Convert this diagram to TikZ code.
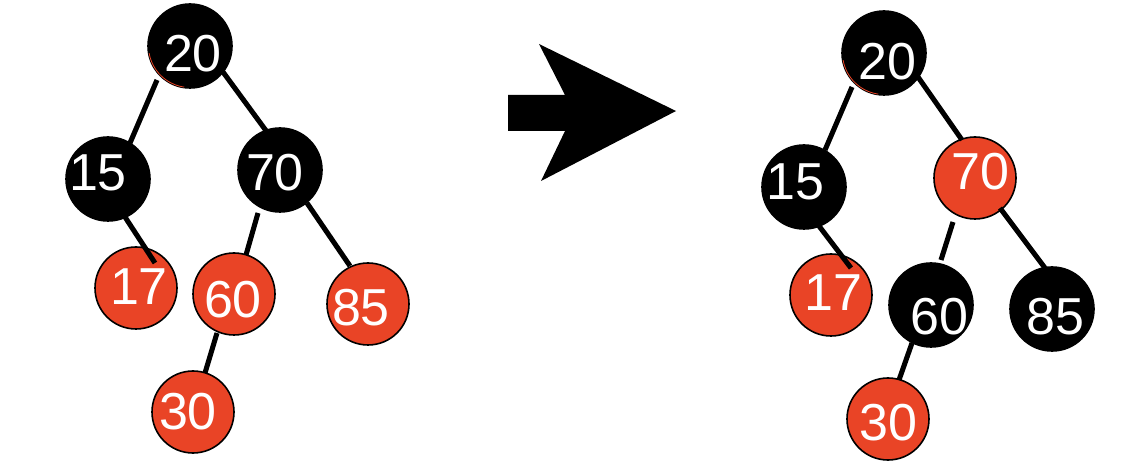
\documentclass[tikz,border=0pt]{standalone}
\usepackage{fontspec}
\setmainfont{Liberation Sans}
\usetikzlibrary{calc}
\definecolor{rbred}{HTML}{E94426}
\begin{document}
\begin{tikzpicture}[x=0.75pt,y=-0.75pt,
  bnode/.style={circle,draw=black,line width=1.2pt,fill=black,minimum size=63pt,inner sep=0pt},
  rnode/.style={circle,draw=black,line width=1.2pt,fill=rbred,minimum size=61.5pt,inner sep=0pt},
  num/.style={text=white,font=\fontsize{39}{39}\selectfont,inner sep=0pt},
  edge/.style={line width=3.8pt,black},
  rim/.style={rbred,line width=0.6pt}]
\useasboundingbox (0,0) rectangle (1128,466);
% left tree
\node[bnode] (a20) at (190,46) {};
\node[bnode] (a15) at (108,179) {};
\node[bnode] (a70) at (280,170) {};
\node[rnode] (a17) at (136,288) {};
\node[rnode] (a60) at (234,294) {};
\node[rnode] (a85) at (368,304) {};
\node[rnode] (a30) at (193,412) {};
\draw[rim] ($(a20)+(170:41.5)$) arc[start angle=170,end angle=98,radius=41.5];
\draw[edge] ($(a20)+(-33,34)$) -- ($(a15)+(22,-36)$);
\draw[edge] ($(a20)+(33,26)$) -- ($(a70)+(-13,-38)$);
\draw[edge] ($(a15)+(17,38)$) -- ($(a17)+(19,-25)$);
\draw[edge] ($(a70)+(-22,43)$) -- ($(a60)+(12,-39)$);
\draw[edge] ($(a70)+(27,33)$) -- ($(a85)+(-18,-38)$);
\draw[edge] ($(a60)+(-17,39)$) -- ($(a30)+(12,-39)$);
\node[num] (ta20) at ($(a20)+(3,8)$) {20};
\node[num] (ta15) at ($(a15)+(-10,-6)$) {15};
\node[num] (ta70) at ($(a70)+(-5,3)$) {70};
\node[num] (ta17) at ($(a17)+(3,-1)$) {17};
\node[num] (ta60) at ($(a60)+(-1,6)$) {60};
\node[num] (ta85) at ($(a85)+(-7,4)$) {85};
\node[num] (ta30) at ($(a30)+(-5,0)$) {30};
% arrow
\fill[black] (508,95) -- (565,95) -- (539,44) -- (676,111) -- (541,181) -- (565,131) -- (508,131) -- cycle;
% right tree
\node[bnode] (b20) at (884,53) {};
\node[bnode] (b15) at (804,187) {};
\node[rnode] (b70) at (975,178) {};
\node[rnode] (b17) at (831,295) {};
\node[bnode] (b60) at (931,305) {};
\node[bnode] (b85) at (1052,309) {};
\node[rnode] (b30) at (888,419) {};
\draw[rim] ($(b20)+(170:41.5)$) arc[start angle=170,end angle=98,radius=41.5];
\draw[edge] ($(b20)+(-32,34)$) -- ($(b15)+(21,-37)$);
\draw[edge] ($(b20)+(34,24)$) -- ($(b70)+(-13,-38)$);
\draw[edge] ($(b15)+(15,39)$) -- ($(b17)+(20,-27)$);
\draw[edge] ($(b70)+(-22,44)$) -- ($(b60)+(10,-45)$);
\draw[edge] ($(b70)+(25,30)$) -- ($(b85)+(-7,-41)$);
\draw[edge] ($(b60)+(-19,38)$) -- ($(b30)+(11,-39)$);
\node[num] (tb20) at ($(b20)+(3,9)$) {20};
\node[num] (tb15) at ($(b15)+(-9,-5)$) {15};
\node[num] (tb70) at ($(b70)+(5,-6)$) {70};
\node[num] (tb17) at ($(b17)+(2,-2)$) {17};
\node[num] (tb60) at ($(b60)+(8,12)$) {60};
\node[num] (tb85) at ($(b85)+(3,8)$) {85};
\node[num] (tb30) at ($(b30)+(0,4)$) {30};
\end{tikzpicture}
\end{document}
